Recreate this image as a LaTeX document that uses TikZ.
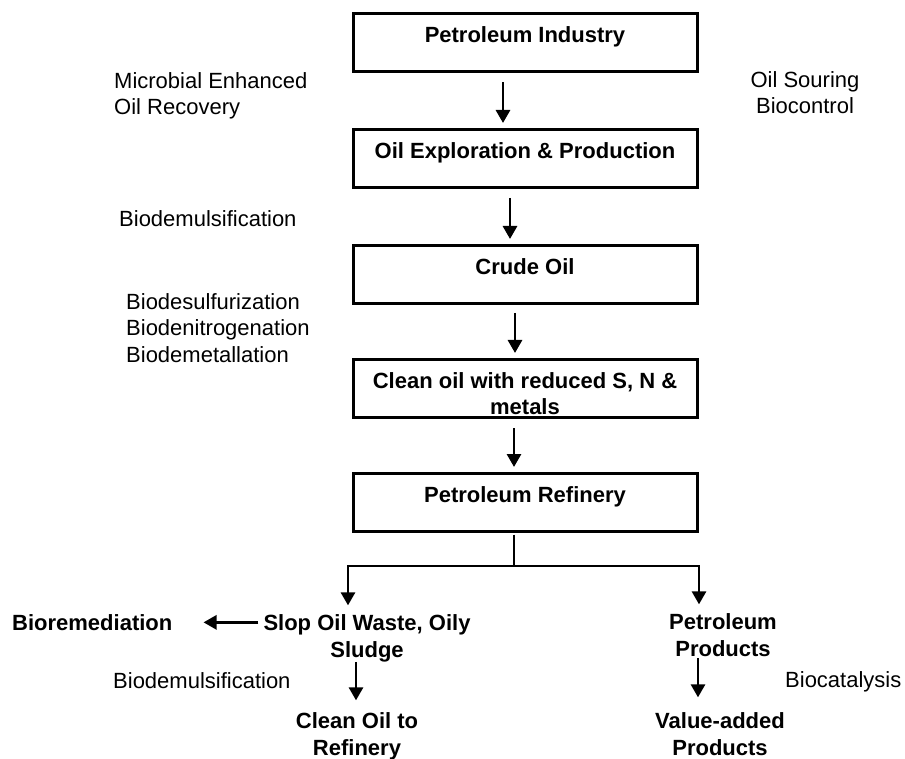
\documentclass[tikz,border=0pt]{standalone}
\usepackage{fontspec}
\setmainfont{Liberation Sans}
\usetikzlibrary{arrows.meta}
\newcommand{\flowfont}{\fontsize{22}{26.5}\selectfont}

\begin{document}
\begin{tikzpicture}[x=1pt, y=-1pt,
  stage/.style={draw, line width=3pt, minimum width=344pt, minimum height=58pt, inner sep=0pt, align=center, text height=15pt, text depth=15pt, font=\flowfont\bfseries},
  outcome/.style={inner sep=0pt, align=center, font=\flowfont\bfseries},
  note/.style={inner sep=0pt, font=\flowfont},
  link/.style={line width=2.8pt},
  flow/.style={link, -{Triangle[length=13pt, width=14pt]}}]
  \useasboundingbox (0,0) rectangle (905,759);

  % Main chain of boxes
  \node[stage] (ind) at (525,43) {Petroleum Industry};
  \node[stage] (expl) at (525,158.5) {Oil Exploration \& Production};
  \node[stage] (crude) at (525,274.5) {Crude Oil};
  \node[stage, text height=54pt, text depth=2pt] (clean) at (525,388.5) {Clean oil with reduced S, N \&\\metals};
  \node[stage] (refinery) at (525,502.5) {Petroleum Refinery};

  % Process notes beside the chain (base = last line)
  \node[note, anchor=base west, align=left] (meor) at (114,115) {Microbial Enhanced\\Oil Recovery};
  \node[note, anchor=base, align=center] (souring) at (805,114) {Oil Souring\\Biocontrol};
  \node[note, anchor=base west] (demulA) at (119,227) {Biodemulsification};
  \node[note, anchor=base west, align=left] (upgrade) at (126,362) {Biodesulfurization\\Biodenitrogenation\\Biodemetallation};

  % Arrows down the chain
  \draw[flow, shorten <=9pt, shorten >=5pt] ([xshift=-22pt]ind.south) -- ([xshift=-22pt]expl.north);
  \draw[flow, shorten <=9pt, shorten >=5pt] ([xshift=-15pt]expl.south) -- ([xshift=-15pt]crude.north);
  \draw[flow, shorten <=8pt, shorten >=5pt] ([xshift=-10pt]crude.south) -- ([xshift=-10pt]clean.north);
  \draw[flow, shorten <=9pt, shorten >=5pt] ([xshift=-11pt]clean.south) -- ([xshift=-11pt]refinery.north);

  % Refinery outputs
  \node[outcome, anchor=base] (slop) at (367,657) {Slop Oil Waste, Oily\\Sludge};
  \node[outcome, anchor=base] (prod) at (723,656) {Petroleum\\Products};
  \node[outcome, anchor=base west] (biorem) at (12,630) {Bioremediation};
  \node[outcome, anchor=base] (cleanref) at (357,755) {Clean Oil to\\Refinery};
  \node[outcome, anchor=base] (valadd) at (720,755) {Value-added\\Products};
  \node[note, anchor=base west] (demulB) at (113,688) {Biodemulsification};
  \node[note, anchor=base west] (biocat) at (785,687) {Biocatalysis};

  \coordinate (split) at (514,566);
  \draw[link, shorten <=1.5pt] ([xshift=-11pt]refinery.south) -- (split);
  \draw[flow, shorten >=9pt] (split) -| ([xshift=-19pt]slop.north);
  \draw[flow, shorten >=9pt] (split) -| ([xshift=-24pt]prod.north);
  \draw[flow, shorten <=5pt, shorten >=31pt] ([yshift=-8pt]slop.north west) -- ([yshift=-8pt]slop.north west -| biorem.east);
  \draw[flow, shorten >=12pt] ([xshift=-11pt]slop.south) -- ([xshift=-1pt]cleanref.north);
  \draw[flow, shorten <=2pt, shorten >=15pt] ([xshift=-25pt]prod.south) -- ([xshift=-22pt]valadd.north);
\end{tikzpicture}
\end{document}
